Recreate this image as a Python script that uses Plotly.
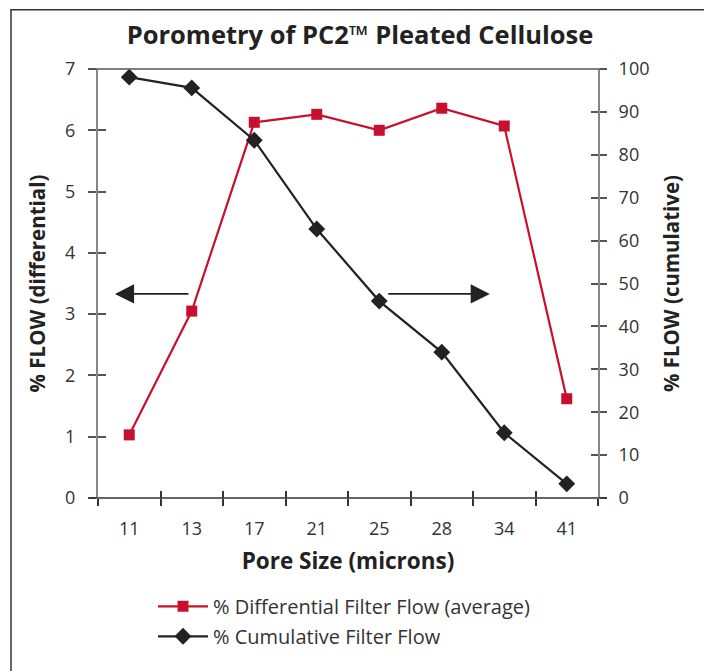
import plotly.graph_objects as go

categories = ["11", "13", "17", "21", "25", "28", "34", "41"]
differential = [1.03, 3.05, 6.13, 6.26, 6.00, 6.36, 6.07, 1.62]
cumulative = [98.1, 95.6, 83.4, 62.7, 45.9, 34.0, 15.2, 3.3]
left_ticks = [0, 1, 2, 3, 4, 5, 6, 7]
right_ticks = [0, 10, 20, 30, 40, 50, 60, 70, 80, 90, 100]

RED = "#c8102e"
BLACK = "#222222"
FONT = "Open Sans"
idx = list(range(len(categories)))
bounds = [i - 0.5 for i in range(len(categories) + 1)]

W, H = 704, 663

fig = go.Figure()
fig.add_trace(go.Scatter(
    x=idx, y=differential, mode="lines+markers", name="% Differential Filter Flow (average)",
    line=dict(color=RED, width=2.2), marker=dict(symbol="square", size=11, color=RED),
    legendgroup="a", xaxis="x", yaxis="y"))
fig.add_trace(go.Scatter(
    x=idx, y=cumulative, mode="lines+markers", name="% Cumulative Filter Flow",
    line=dict(color=BLACK, width=2.2), marker=dict(symbol="diamond", size=13, color=BLACK),
    legendgroup="b", xaxis="x", yaxis="y2"))
# empty helper traces so the overlay tick-only axes are drawn
fig.add_trace(go.Scatter(x=[], y=[], xaxis="x2", yaxis="y3", showlegend=False, hoverinfo="skip"))
fig.add_trace(go.Scatter(x=[], y=[], xaxis="x3", yaxis="y4", showlegend=False, hoverinfo="skip"))

xr = [-0.5, len(categories) - 0.5]
tickfont = dict(family=FONT, size=18, color="#333")
ytitlefont = dict(family=FONT, size=20.5, color="#222")
fig.update_layout(
    width=W, height=H,
    margin=dict(l=90, r=114, t=61, b=173),
    paper_bgcolor="white", plot_bgcolor="white",
    font=dict(family=FONT, color="#222"),
    title=dict(text="<b>Porometry of PC2™ Pleated Cellulose</b>", x=0.5, xanchor="center",
               y=1 - 27 / H, yanchor="middle", font=dict(family=FONT, size=25.5, color="#222")),
    showlegend=True,
    legend=dict(x=0.11, y=-0.207, xanchor="left", yanchor="top", traceorder="grouped",
                tracegroupgap=1, itemwidth=50, font=dict(family=FONT, size=20, color="#333"),
                bgcolor="rgba(0,0,0,0)"),
    xaxis=dict(range=xr, tickmode="array", tickvals=idx, ticktext=categories, ticks="",
               showline=False, showgrid=False, zeroline=False, tickfont=tickfont,
               ticklabelstandoff=18,
               title=dict(text="<b>Pore Size (microns)</b>", standoff=14,
                          font=dict(family=FONT, size=22.5, color="#222"))),
    xaxis2=dict(range=xr, overlaying="x", anchor="y", side="bottom", tickmode="array",
                tickvals=bounds, ticks="outside", ticklen=7, tickwidth=1.5, tickcolor="#333",
                showticklabels=False, showline=False, showgrid=False, zeroline=False),
    xaxis3=dict(range=xr, overlaying="x", anchor="y", side="bottom", tickmode="array",
                tickvals=bounds, ticks="inside", ticklen=7, tickwidth=1.5, tickcolor="#333",
                showticklabels=False, showline=False, showgrid=False, zeroline=False),
    yaxis=dict(range=[0, 7], tickmode="array", tickvals=left_ticks, ticks="outside", ticklen=8,
               tickwidth=1.5, tickcolor="#555", showline=True, linecolor="#888", linewidth=2,
               showgrid=False, zeroline=False, tickfont=tickfont, ticklabelstandoff=9,
               title=dict(text="<b>% FLOW (differential)</b>", standoff=14, font=ytitlefont)),
    yaxis3=dict(range=[0, 7], overlaying="y", anchor="x2", side="left", tickmode="array",
                tickvals=left_ticks, ticks="inside", ticklen=8, tickwidth=1.5, tickcolor="#555",
                showticklabels=False, showline=False, showgrid=False, zeroline=False),
    yaxis2=dict(range=[0, 100], overlaying="y", anchor="x", side="right", tickmode="array",
                tickvals=right_ticks, ticks="outside", ticklen=7, tickwidth=1.5, tickcolor="#555",
                showline=True, linecolor="#888", linewidth=2, showgrid=False, zeroline=False,
                tickfont=tickfont, ticklabelstandoff=8,
                title=dict(text="<b>% FLOW (cumulative)</b>", standoff=16, font=ytitlefont)),
    yaxis4=dict(range=[0, 100], overlaying="y", anchor="x3", side="right", tickmode="array",
                tickvals=right_ticks, ticks="inside", ticklen=7, tickwidth=1.5, tickcolor="#555",
                showticklabels=False, showline=False, showgrid=False, zeroline=False),
)

# horizontal frame lines at bottom (x axis) and top, extended slightly past the axes
for yv, col in [(0, "#333"), (1, "#555")]:
    fig.add_shape(type="line", xref="paper", yref="paper", x0=-0.018, x1=1.018, y0=yv, y1=yv,
                  line=dict(color=col, width=1.5), layer="above")

# outer border
fig.add_shape(type="rect", xref="paper", yref="paper", x0=-0.174, x1=1.214, y0=-0.44, y1=1.138,
              line=dict(color="#333", width=1.5))

# direction arrows
arrow_y = 3.33
fig.add_annotation(x=-0.23, y=arrow_y, ax=0.97, ay=arrow_y, xref="x", yref="y", axref="x", ayref="y",
                   showarrow=True, arrowhead=2, arrowsize=2.4, arrowwidth=1.6, arrowcolor=BLACK, text="")
fig.add_annotation(x=5.77, y=arrow_y, ax=4.12, ay=arrow_y, xref="x", yref="y", axref="x", ayref="y",
                   showarrow=True, arrowhead=2, arrowsize=2.4, arrowwidth=1.6, arrowcolor=BLACK, text="")

fig.write_html("out.html")
